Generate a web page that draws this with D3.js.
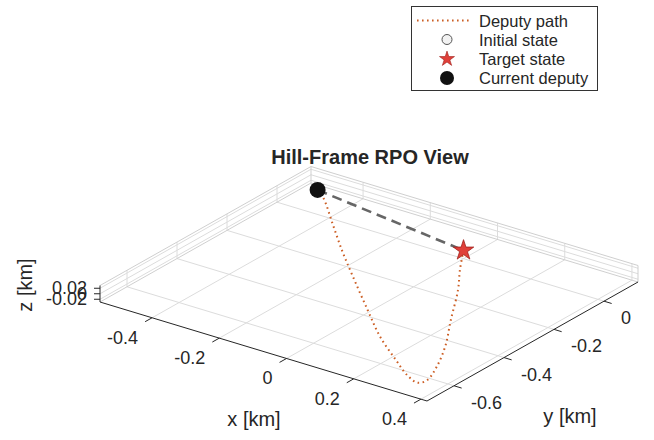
<!DOCTYPE html>
<html>
<head>
<meta charset="utf-8">
<script src="https://cdn.jsdelivr.net/npm/d3@7"></script>
<style>
  body { margin: 0; background: #fff; }
  text { font-family: "Liberation Sans", Arial, sans-serif; fill: #262626; }
</style>
</head>
<body>
<div id="chart"></div>
<script>
const width = 654, height = 440;

// axis limits and ticks (km)
const xLim = [-0.555, 0.418];
const yLim = [-0.708, 0.136];
const zLim = [-0.03, 0.03];
const xTicks = [-0.4, -0.2, 0, 0.2, 0.4];
const yTicks = [-0.6, -0.4, -0.2, 0];
const zTicks = [-0.02, 0, 0.02];

// deputy path (Hill frame)
const pathX = [-0.49, -0.45, -0.34, -0.23, -0.13, 0.02, 0.135, 0.245, 0.32, 0.365, 0.375, 0.35, 0.295, 0.215, 0.125, 0.06, 0.0];
const pathY = [0.075, 0.045, -0.065, -0.175, -0.27, -0.41, -0.515, -0.6, -0.655, -0.675, -0.65, -0.58, -0.47, -0.34, -0.19, -0.095, 0.0];
const pathZ = [0, 0, 0, 0, 0, 0, 0, 0, 0, 0, 0, 0, 0, 0, 0, 0, 0];

const initialState = [-0.49, 0.075, 0];
const targetState = [0, 0, 0];
const currentDeputy = [-0.49, 0.075, 0];

const legendLabels = ["Deputy path", "Initial state", "Target state", "Current deputy"];

// screen geometry of the box (orthographic view)
const corner = [100, 302];      // (xmin, ymin, zmin)
const ex = [327, 99];           // full x range
const ey = [211, -119];         // full y range
const ez = [0, -16.5];          // full z range

const sx = d3.scaleLinear().domain(xLim).range([0, 1]);
const sy = d3.scaleLinear().domain(yLim).range([0, 1]);
const sz = d3.scaleLinear().domain(zLim).range([0, 1]);

function proj(x, y, z) {
  const a = sx(x), b = sy(y), c = sz(z);
  return [corner[0] + a * ex[0] + b * ey[0] + c * ez[0],
          corner[1] + a * ex[1] + b * ey[1] + c * ez[1]];
}

const svg = d3.select("#chart").append("svg")
  .attr("width", width)
  .attr("height", height);

const gridColor = "#dcdcdc";
const axisColor = "#262626";
const line = d3.line();

function seg(g, p, q, color, w) {
  g.append("path")
    .attr("d", line([proj(...p), proj(...q)]))
    .attr("stroke", color)
    .attr("stroke-width", w)
    .attr("fill", "none");
}

const grid = svg.append("g");
const [x0, x1] = xLim, [y0, y1] = yLim, [z0, z1] = zLim;

// floor grid + back wall grid
xTicks.forEach(x => {
  seg(grid, [x, y0, z0], [x, y1, z0], gridColor, 1);
  seg(grid, [x, y1, z0], [x, y1, z1], gridColor, 1);
});
yTicks.forEach(y => {
  seg(grid, [x0, y, z0], [x1, y, z0], gridColor, 1);
  seg(grid, [x0, y, z0], [x0, y, z1], gridColor, 1);
});
zTicks.forEach(z => {
  seg(grid, [x0, y0, z], [x0, y1, z], gridColor, 1);
  seg(grid, [x0, y1, z], [x1, y1, z], gridColor, 1);
});

// back box edges
const boxColor = "#cfcfcf";
seg(grid, [x0, y0, z1], [x0, y1, z1], boxColor, 1);
seg(grid, [x0, y1, z1], [x1, y1, z1], boxColor, 1);
seg(grid, [x0, y1, z0], [x0, y1, z1], boxColor, 1);
seg(grid, [x1, y1, z0], [x1, y1, z1], boxColor, 1);
seg(grid, [x0, y0, z0], [x0, y1, z0], boxColor, 1);
seg(grid, [x0, y1, z0], [x1, y1, z0], boxColor, 1);

// axis lines
const axes = svg.append("g");
seg(axes, [x0, y0, z0], [x1, y0, z0], axisColor, 1);
seg(axes, [x1, y0, z0], [x1, y1, z0], axisColor, 1);
seg(axes, [x0, y0, z0], [x0, y0, z1], axisColor, 1);

// tick marks and labels
const fmt = d => d === 0 ? "0" : d3.format("")(d).replace("−", "-");
const ux = [-211 / 242.2, 119 / 242.2];   // outward from x axis
const uy = [327 / 341.7, 99 / 341.7];     // outward from y axis

xTicks.forEach(x => {
  const p = proj(x, y0, z0);
  axes.append("line")
    .attr("x1", p[0]).attr("y1", p[1])
    .attr("x2", p[0] + ux[0] * 8).attr("y2", p[1] + ux[1] * 8)
    .attr("stroke", axisColor);
  axes.append("text")
    .attr("x", p[0] - 14).attr("y", p[1] + 26)
    .attr("text-anchor", "end")
    .style("font-size", "18px")
    .text(fmt(x));
});

yTicks.forEach(y => {
  const p = proj(x1, y, z0);
  axes.append("line")
    .attr("x1", p[0]).attr("y1", p[1])
    .attr("x2", p[0] + uy[0] * 8).attr("y2", p[1] + uy[1] * 8)
    .attr("stroke", axisColor);
  axes.append("text")
    .attr("x", p[0] + 17).attr("y", p[1] + 23)
    .attr("text-anchor", "start")
    .style("font-size", "18px")
    .text(fmt(y));
});

zTicks.forEach(z => {
  const p = proj(x0, y0, z);
  axes.append("line")
    .attr("x1", p[0]).attr("y1", p[1])
    .attr("x2", p[0] - 6).attr("y2", p[1])
    .attr("stroke", axisColor);
  axes.append("text")
    .attr("x", p[0] - 13).attr("y", p[1] + 6)
    .attr("text-anchor", "end")
    .style("font-size", "18px")
    .text(fmt(z));
});

// axis labels
svg.append("text")
  .attr("x", 254).attr("y", 426)
  .attr("text-anchor", "middle")
  .style("font-size", "20px")
  .text("x [km]");

svg.append("text")
  .attr("x", 570).attr("y", 423)
  .attr("text-anchor", "middle")
  .style("font-size", "20px")
  .text("y [km]");

svg.append("text")
  .attr("transform", "translate(32,285) rotate(-90)")
  .attr("text-anchor", "middle")
  .style("font-size", "20px")
  .text("z [km]");

// title
svg.append("text")
  .attr("x", 370).attr("y", 164)
  .attr("text-anchor", "middle")
  .style("font-size", "20px")
  .style("font-weight", "bold")
  .text("Hill-Frame RPO View");

// data marks
const pathColor = "#CC5E24";
const pathPts = pathX.map((x, i) => proj(x, pathY[i], pathZ[i]));

svg.append("path")
  .datum(pathPts)
  .attr("d", d3.line().curve(d3.curveCatmullRom))
  .attr("fill", "none")
  .attr("stroke", pathColor)
  .attr("stroke-width", 2)
  .attr("stroke-dasharray", "1.6,3.4");

svg.append("path")
  .attr("d", line([proj(...currentDeputy), proj(...targetState)]))
  .attr("stroke", "#666")
  .attr("stroke-width", 2.6)
  .attr("stroke-dasharray", "10,6")
  .attr("fill", "none");

const pi = proj(...initialState);
svg.append("circle")
  .attr("cx", pi[0]).attr("cy", pi[1]).attr("r", 5)
  .attr("fill", "#f2f2f2").attr("stroke", "#555");

const star = d3.symbol().type(d3.symbolStar);
const pt = proj(...targetState);
svg.append("path")
  .attr("d", star.size(130)())
  .attr("transform", `translate(${pt[0]},${pt[1]})`)
  .attr("fill", "#E0403A")
  .attr("stroke", "#9e1f1a")
  .attr("stroke-width", 0.8);

const pc = proj(...currentDeputy);
svg.append("circle")
  .attr("cx", pc[0]).attr("cy", pc[1]).attr("r", 8)
  .attr("fill", "#111");

// legend
const legend = svg.append("g");
legend.append("rect")
  .attr("x", 411.5).attr("y", 6.5)
  .attr("width", 186).attr("height", 84)
  .attr("fill", "#fff")
  .attr("stroke", "#333")
  .attr("stroke-width", 1);

const rowY = [20.5, 39.5, 59, 78];
legendLabels.forEach((lab, i) => {
  legend.append("text")
    .attr("x", 479).attr("y", rowY[i] + 6)
    .style("font-size", "16.5px")
    .text(lab);
});

legend.append("line")
  .attr("x1", 417).attr("x2", 472)
  .attr("y1", rowY[0]).attr("y2", rowY[0])
  .attr("stroke", pathColor)
  .attr("stroke-width", 2)
  .attr("stroke-dasharray", "1.6,3.4");

legend.append("circle")
  .attr("cx", 447).attr("cy", rowY[1]).attr("r", 5)
  .attr("fill", "#f2f2f2").attr("stroke", "#555");

legend.append("path")
  .attr("d", star.size(70)())
  .attr("transform", `translate(447,${rowY[2]})`)
  .attr("fill", "#E0403A")
  .attr("stroke", "#9e1f1a")
  .attr("stroke-width", 0.6);

legend.append("circle")
  .attr("cx", 447).attr("cy", rowY[3]).attr("r", 7)
  .attr("fill", "#111");
</script>
</body>
</html>
